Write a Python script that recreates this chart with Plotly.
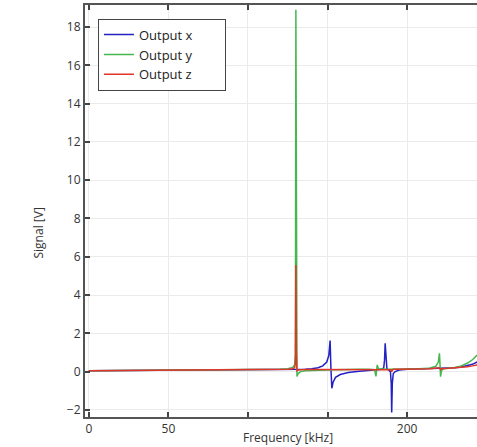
import plotly.graph_objects as go

# Frequency grid [kHz]
freq = [0, 25, 50, 75, 100, 110, 120, 125, 128, 129.3, 129.8, 130.1, 130.4, 130.8, 131.5,
        133, 136, 140, 144, 147, 149.5, 150.8, 151.6, 152.1, 152.7, 153.5, 155, 158, 163,
        170, 176, 179.5, 180.4, 180.8, 181.2, 182, 184, 185.3, 185.8, 186.2, 186.7, 187.3,
        188.5, 189.5, 190.0, 190.3, 190.7, 191.3, 192.5, 195, 200, 207, 214, 218, 219.6,
        220.3, 220.6, 221.0, 221.5, 222.0, 223, 226, 230, 234, 238, 241, 244]

# Output x [V]
out_x = [0.05, 0.06, 0.07, 0.08, 0.09, 0.1, 0.11, 0.11, 0.11, 0.11, 0.11, 0.11, 0.11, 0.11, 0.11,
         0.12, 0.13, 0.15, 0.2, 0.3, 0.5, 0.85, 1.62, 0.2, -0.87, -0.55, -0.3, -0.15, -0.05,
         0.02, 0.06, 0.08, 0.09, 0.09, 0.1, 0.1, 0.12, 0.2, 0.6, 1.48, 0.5, 0.15,
         0.08, 0.0, -0.6, -2.13, -0.6, -0.1, 0.0, 0.08, 0.12, 0.14, 0.15, 0.16, 0.17,
         0.17, 0.17, 0.16, 0.16, 0.17, 0.17, 0.18, 0.2, 0.24, 0.3, 0.38, 0.5]

# Output y [V]
out_y = [0.05, 0.06, 0.07, 0.08, 0.09, 0.1, 0.12, 0.15, 0.22, 0.35, 0.9, 18.9, 3.0, -0.26, -0.1,
         0.0, 0.05, 0.07, 0.08, 0.09, 0.09, 0.1, 0.1, 0.1, 0.1, 0.1, 0.1, 0.11, 0.11,
         0.12, 0.12, 0.1, -0.25, 0.1, 0.35, 0.15, 0.13, 0.13, 0.13, 0.13, 0.13, 0.13,
         0.13, 0.13, 0.13, 0.12, 0.12, 0.13, 0.13, 0.13, 0.14, 0.15, 0.18, 0.28, 0.5,
         0.96, 0.5, -0.26, 0.0, 0.1, 0.15, 0.18, 0.22, 0.3, 0.45, 0.62, 0.87]

# Output z [V]
out_z = [0.05, 0.06, 0.07, 0.08, 0.09, 0.1, 0.11, 0.12, 0.15, 0.2, 0.4, 5.57, 1.0, 0.05, 0.08,
         0.1, 0.11, 0.11, 0.11, 0.11, 0.11, 0.11, 0.11, 0.11, 0.11, 0.11, 0.11, 0.11, 0.11,
         0.12, 0.12, 0.12, 0.12, 0.12, 0.12, 0.12, 0.12, 0.12, 0.12, 0.12, 0.12, 0.12,
         0.12, 0.1, 0.05, 0.0, 0.08, 0.12, 0.12, 0.13, 0.13, 0.14, 0.15, 0.16, 0.17,
         0.2, 0.16, 0.1, 0.14, 0.16, 0.16, 0.17, 0.19, 0.22, 0.26, 0.3, 0.35]

names = ["Output x", "Output y", "Output z"]
colors = ["#2222c4", "#44b84e", "#e2352a"]
x_ticks = [0, 50, 100, 150, 200]
x_ticklabels = ["0", "50", "", "", "200"]
y_ticks = [-2, 0, 2, 4, 6, 8, 10, 12, 14, 16, 18]

fig = go.Figure()
for name, vals, col in zip(names, [out_x, out_y, out_z], colors):
    fig.add_trace(go.Scatter(x=freq, y=vals, mode="lines", name=name + "\u00a0" * 8,
                             line=dict(color=col, width=1.5)))

axis_common = dict(showline=True, linecolor="#555555", linewidth=2, ticks="inside",
                   ticklen=5, tickwidth=1.5, tickcolor="#444444", showgrid=True,
                   gridcolor="#ebebeb", gridwidth=1, zeroline=False,
                   tickfont=dict(family="Open Sans", size=12, color="#333333"))

fig.update_layout(
    width=477, height=447,
    margin=dict(l=85, r=0, t=5, b=30),
    paper_bgcolor="white", plot_bgcolor="white",
    font=dict(family="Open Sans", size=12, color="#333333"),
    xaxis=dict(range=[-2.4, 243.9], tickvals=x_ticks, ticktext=x_ticklabels,
               mirror="ticks", **axis_common),
    yaxis=dict(range=[-2.37, 19.15], tickvals=y_ticks, mirror=False, **axis_common),
    legend=dict(x=0.033, y=0.967, xanchor="left", yanchor="top",
                bgcolor="white", bordercolor="#444444", borderwidth=1,
                font=dict(family="Open Sans", size=13, color="#222222"),
                tracegroupgap=0),
    showlegend=True,
)

fig.add_annotation(text="Frequency [kHz]", xref="paper", yref="paper",
                   x=(287.5 - 85) / 392, y=-(437 - 417) / 412, showarrow=False,
                   xanchor="center", yanchor="middle",
                   font=dict(family="Open Sans", size=12, color="#333333"))
fig.add_annotation(text="Signal [V]", xref="paper", yref="paper",
                   x=(37.5 - 85) / 392, y=1 - (233 - 5) / 412, showarrow=False,
                   xanchor="center", yanchor="middle", textangle=-90,
                   font=dict(family="Open Sans", size=12, color="#333333"))

fig.write_html("out.html", config={"displayModeBar": False},
               post_script="document.body.style.margin='0';document.body.style.overflow='hidden';")
